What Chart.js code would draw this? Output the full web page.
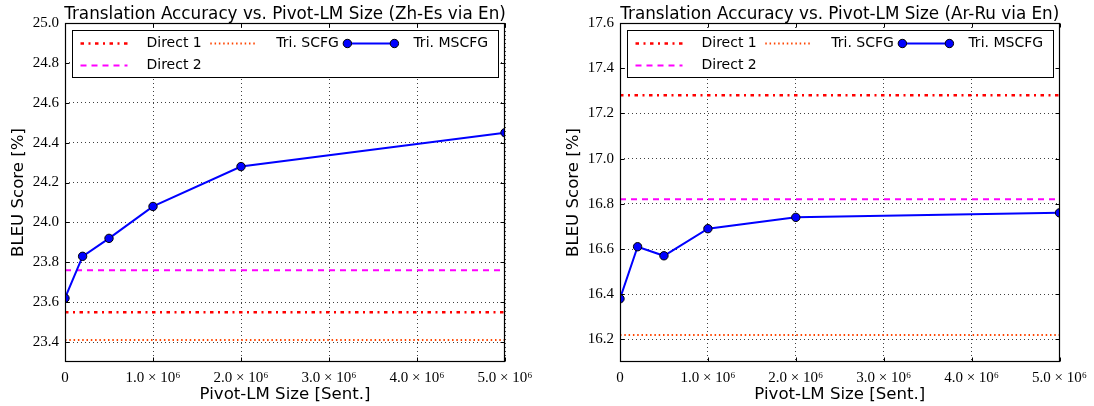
<!DOCTYPE html>
<html><head><meta charset="utf-8">
<script src="https://cdn.jsdelivr.net/npm/chart.js@4"></script>
<style>
html,body{margin:0;padding:0;background:#fff;}
#wrap{position:relative;width:1094px;height:406px;background:#fff;}
.box{position:absolute;top:0;width:547px;height:406px;}
</style></head><body>
<div id="wrap">
<div class="box" style="left:0"><canvas id="c1" width="547" height="406"></canvas></div>
<div class="box" style="left:547px"><canvas id="c2" width="547" height="406"></canvas></div>
</div>
<script>
// ---- data ----
const pivotSizes = [0, 200000, 500000, 1000000, 2000000, 5000000];
const xRange = [0, 5000000];
const xTickValues = [0, 1000000, 2000000, 3000000, 4000000, 5000000];
const xTickLabels = ['0', '1.0 \u00d7 10\u2076', '2.0 \u00d7 10\u2076', '3.0 \u00d7 10\u2076', '4.0 \u00d7 10\u2076', '5.0 \u00d7 10\u2076'];
const seriesLabels = ['Direct 1', 'Direct 2', 'Tri. SCFG', 'Tri. MSCFG'];

const zhEsTitle = 'Translation Accuracy vs. Pivot-LM Size (Zh-Es via En)';
const zhEsMSCFG = [23.62, 23.83, 23.92, 24.08, 24.28, 24.45];
const zhEsDirect1 = 23.55;
const zhEsDirect2 = 23.76;
const zhEsSCFG = 23.41;
const zhEsYRange = [23.3, 25.0];
const zhEsYTicks = [23.4, 23.6, 23.8, 24.0, 24.2, 24.4, 24.6, 24.8, 25.0];

const arRuTitle = 'Translation Accuracy vs. Pivot-LM Size (Ar-Ru via En)';
const arRuMSCFG = [16.38, 16.61, 16.57, 16.69, 16.74, 16.76];
const arRuDirect1 = 17.28;
const arRuDirect2 = 16.82;
const arRuSCFG = 16.22;
const arRuYRange = [16.1, 17.6];
const arRuYTicks = [16.2, 16.4, 16.6, 16.8, 17.0, 17.2, 17.4, 17.6];

// ---- plugins ----
const framePlugin = {
  id: 'mplFrame',
  afterDatasetsDraw(chart) {
    const {ctx, chartArea: ca, scales} = chart;
    ctx.save();
    ctx.strokeStyle = '#000';
    ctx.lineWidth = 1;
    const L = Math.round(ca.left) + 0.5, R = Math.round(ca.right) - 0.5;
    const T = Math.round(ca.top) + 0.5, B = Math.round(ca.bottom) - 0.5;
    ctx.beginPath();
    scales.x.ticks.forEach(t => {
      const px = Math.round(scales.x.getPixelForValue(t.value)) + 0.5;
      ctx.moveTo(px, B); ctx.lineTo(px, B - 4);
      ctx.moveTo(px, T); ctx.lineTo(px, T + 4);
    });
    scales.y.ticks.forEach(t => {
      const py = Math.round(scales.y.getPixelForValue(t.value)) + 0.5;
      ctx.moveTo(L, py); ctx.lineTo(L + 4, py);
      ctx.moveTo(R, py); ctx.lineTo(R - 4, py);
    });
    ctx.stroke();
    ctx.lineWidth = 1.2;
    ctx.strokeRect(L, T, R - L, B - T);
    ctx.restore();
  }
};

const titlePlugin = {
  id: 'mplTitle',
  afterDraw(chart, args, opts) {
    const {ctx, chartArea: ca} = chart;
    ctx.save();
    ctx.font = '16.8px "DejaVu Sans"';
    ctx.textAlign = 'center';
    ctx.textBaseline = 'alphabetic';
    ctx.fillStyle = '#000';
    ctx.fillText(opts.text, (ca.left + ca.right) / 2, ca.top - 4);
    ctx.restore();
  }
};

const legendPlugin = {
  id: 'mplLegend',
  afterDraw(chart) {
    const {ctx, chartArea: ca} = chart;
    const ds = chart.data.datasets;
    const bx = Math.round(ca.left + 7) + 0.5, by = Math.round(ca.top + 7) + 0.5;
    const bw = Math.round(ca.right - ca.left - 14), bh = 47;
    ctx.save();
    ctx.fillStyle = '#fff';
    ctx.fillRect(bx, by, bw, bh);
    ctx.strokeStyle = '#000';
    ctx.lineWidth = 1;
    ctx.strokeRect(bx, by, bw, bh);
    ctx.font = '14px "DejaVu Sans"';
    ctx.textBaseline = 'middle';
    const cols = [[0, 1], [2], [3]];
    const rowY = [by + 13, by + 35];
    let x = bx + 8;
    cols.forEach(col => {
      let maxW = 0;
      col.forEach((di, r) => {
        const d = ds[di];
        const y = rowY[r];
        ctx.save();
        ctx.strokeStyle = d.borderColor;
        ctx.lineWidth = d.borderWidth;
        ctx.setLineDash(d.borderDash || []);
        ctx.beginPath(); ctx.moveTo(x, y); ctx.lineTo(x + 47, y); ctx.stroke();
        if (d.pointRadius) {
          ctx.setLineDash([]);
          [x, x + 47].forEach(px => {
            ctx.beginPath();
            ctx.arc(px, y, d.pointRadius, 0, Math.PI * 2);
            ctx.fillStyle = d.pointBackgroundColor;
            ctx.fill();
            ctx.lineWidth = d.pointBorderWidth;
            ctx.strokeStyle = d.pointBorderColor;
            ctx.stroke();
          });
        }
        ctx.restore();
        ctx.fillStyle = '#000';
        ctx.fillText(d.label, x + 66, y);
        maxW = Math.max(maxW, ctx.measureText(d.label).width);
      });
      x = x + 66 + maxW + 8.5;
    });
    ctx.restore();
  }
};

function hLine(v) { return xRange.map(x => ({x: x, y: v})); }

function makeChart(id, title, mscfg, d1, d2, scfg, yRange, yTicks, yWidth, yTitlePad, padRight) {
  const tickFont = {family: '"Liberation Serif", serif', size: 15};
  const axisTitleFont = {family: '"DejaVu Sans"', size: 16.6, lineHeight: 1.2};
  return new Chart(document.getElementById(id), {
    type: 'line',
    data: {
      datasets: [
        {label: seriesLabels[0], data: hLine(d1), borderColor: '#ff0000', borderWidth: 2.5,
         borderDash: [3.5, 4.5, 2, 4.5], pointRadius: 0, order: 3, clip: 0},
        {label: seriesLabels[1], data: hLine(d2), borderColor: '#ff00ff', borderWidth: 2,
         borderDash: [6, 5], pointRadius: 0, order: 2, clip: 0},
        {label: seriesLabels[2], data: hLine(scfg), borderColor: '#ff4500', borderWidth: 2,
         borderDash: [1.5, 2.8], pointRadius: 0, order: 1, clip: 0},
        {label: seriesLabels[3], data: pivotSizes.map((x, i) => ({x: x, y: mscfg[i]})),
         borderColor: '#0000ff', borderWidth: 2, pointRadius: 4.2, pointBackgroundColor: '#0000ff',
         pointBorderColor: '#000000', pointBorderWidth: 1, order: 0, clip: 0, tension: 0}
      ]
    },
    options: {
      responsive: false,
      animation: false,
      devicePixelRatio: 1,
      layout: {padding: {top: 23, right: padRight, left: 0, bottom: 0}},
      plugins: {
        legend: {display: false},
        tooltip: {enabled: false},
        title: {display: false},
        mplTitle: {text: title}
      },
      scales: {
        x: {
          type: 'linear', min: xRange[0], max: xRange[1],
          afterBuildTicks: s => { s.ticks = xTickValues.map(v => ({value: v})); },
          afterFit: s => { s.height = 44; },
          ticks: {callback: (v, i) => xTickLabels[i], font: tickFont, color: '#000', padding: 7,
                  maxRotation: 0, autoSkip: false},
          grid: {color: 'rgba(0,0,0,0.75)', lineWidth: 1, drawTicks: false},
          border: {display: false, dash: [1, 3]},
          title: {display: true, text: 'Pivot-LM Size [Sent.]', font: axisTitleFont, color: '#000',
                  padding: {top: 0, bottom: 1}}
        },
        y: {
          type: 'linear', min: yRange[0], max: yRange[1],
          afterBuildTicks: s => { s.ticks = yTicks.map(v => ({value: v})); },
          afterFit: s => { s.width = yWidth; },
          ticks: {callback: v => v.toFixed(1), font: tickFont, color: '#000', padding: 6, autoSkip: false},
          grid: {color: 'rgba(0,0,0,0.75)', lineWidth: 1, drawTicks: false},
          border: {display: false, dash: [1, 3]},
          title: {display: true, text: 'BLEU Score [%]', font: axisTitleFont, color: '#000',
                  padding: {top: yTitlePad, bottom: 0}}
        }
      }
    },
    plugins: [framePlugin, titlePlugin, legendPlugin]
  });
}

makeChart('c1', zhEsTitle, zhEsMSCFG, zhEsDirect1, zhEsDirect2, zhEsSCFG, zhEsYRange, zhEsYTicks, 65, 9, 42);
makeChart('c2', arRuTitle, arRuMSCFG, arRuDirect1, arRuDirect2, arRuSCFG, arRuYRange, arRuYTicks, 73, 17, 34);
</script>
</body></html>
